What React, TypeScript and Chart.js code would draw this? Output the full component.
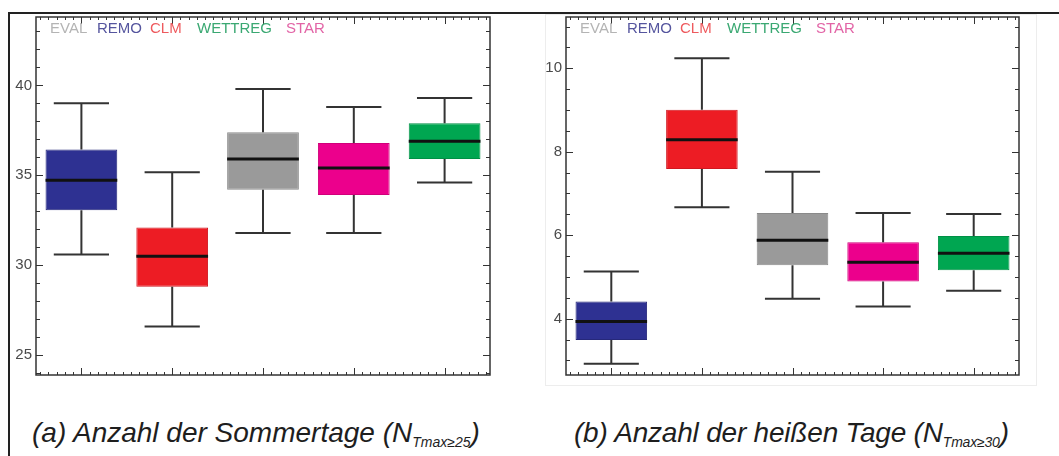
import React, { useEffect, useRef } from "react";
import { Chart, registerables } from "chart.js";
Chart.register(...registerables);

// Categories (box order left to right)
const categories = ["REMO", "CLM", "EVAL", "STAR", "WETTREG"];
const boxColors = ["#2e3192", "#ed1c24", "#9a9a9a", "#ec008c", "#00a651"];
const boxBorders = ["#26287a", "#d01820", "#8a8a8a", "#d0007a", "#009045"];

// Legend
const legendNames = ["EVAL", "REMO", "CLM", "WETTREG", "STAR"];
const legendColors = ["#b4b4b4", "#55559e", "#ee5a5e", "#3aa872", "#e264a6"];
const legendOffsets = [50, 97, 150, 197, 286];

// (a) Sommertage
const sommerLow = [30.6, 26.6, 31.8, 31.8, 34.6];
const sommerQ1 = [33.06, 28.8, 34.2, 33.9, 35.9];
const sommerMedian = [34.72, 30.5, 35.9, 35.4, 36.9];
const sommerQ3 = [36.44, 32.1, 37.4, 36.8, 37.9];
const sommerHigh = [39.0, 35.17, 39.8, 38.8, 39.3];
const sommerTicks = [25, 30, 35, 40];

// (b) heiße Tage
const heissLow = [2.92, 6.67, 4.48, 4.29, 4.67];
const heissQ1 = [3.49, 7.59, 5.28, 4.89, 5.16];
const heissMedian = [3.93, 8.29, 5.88, 5.35, 5.57];
const heissQ3 = [4.41, 9.01, 6.53, 5.83, 5.98];
const heissHigh = [5.13, 10.24, 7.52, 6.53, 6.51];
const heissTicks = [4, 6, 8, 10];

const boxExtras = {
  id: "boxExtras",
  afterDatasetsDraw(chart: any, _args: any, opts: any) {
    const { ctx, scales } = chart;
    const y = scales.y;
    const meta = chart.getDatasetMeta(0);
    ctx.save();
    meta.data.forEach((bar: any, i: number) => {
      const cx = bar.x;
      const w = bar.width;
      const capW = w * 0.77;
      const yLow = y.getPixelForValue(opts.low[i]);
      const yHigh = y.getPixelForValue(opts.high[i]);
      const yQ1 = y.getPixelForValue(opts.q1[i]);
      const yQ3 = y.getPixelForValue(opts.q3[i]);
      const yMed = y.getPixelForValue(opts.median[i]);
      ctx.strokeStyle = "#333333";
      ctx.lineWidth = 2;
      ctx.beginPath();
      ctx.moveTo(cx, yQ3);
      ctx.lineTo(cx, yHigh);
      ctx.moveTo(cx - capW / 2, yHigh);
      ctx.lineTo(cx + capW / 2, yHigh);
      ctx.moveTo(cx, yQ1);
      ctx.lineTo(cx, yLow);
      ctx.moveTo(cx - capW / 2, yLow);
      ctx.lineTo(cx + capW / 2, yLow);
      ctx.stroke();
      ctx.strokeStyle = "#111111";
      ctx.lineWidth = 3;
      ctx.beginPath();
      ctx.moveTo(cx - w / 2, yMed);
      ctx.lineTo(cx + w / 2, yMed);
      ctx.stroke();
    });
    ctx.restore();
  },
  afterDraw(chart: any, _args: any, opts: any) {
    const { ctx, chartArea: a, scales } = chart;
    const y = scales.y;
    const x = scales.x;
    ctx.save();
    ctx.strokeStyle = "#333333";
    ctx.lineWidth = 1;
    ctx.beginPath();
    // y ticks
    const minor = opts.minorStep;
    const major = opts.majorStep;
    const kStart = Math.ceil(y.min / minor);
    const kEnd = Math.floor(y.max / minor);
    for (let k = kStart; k <= kEnd; k++) {
      const v = k * minor;
      const isMajor = Math.abs(v / major - Math.round(v / major)) < 1e-6;
      const len = isMajor ? 7 : 4;
      const py = Math.round(y.getPixelForValue(v)) + 0.5;
      ctx.moveTo(a.left, py);
      ctx.lineTo(a.left + len, py);
      ctx.moveTo(a.right, py);
      ctx.lineTo(a.right - len, py);
    }
    // x ticks
    const n = chart.data.labels.length;
    const c0 = x.getPixelForValue(0);
    const c1 = x.getPixelForValue(1);
    const step = (c1 - c0) / 11;
    for (let i = 0; i < n; i++) {
      const cx = x.getPixelForValue(i);
      for (let j = -5; j <= 5; j++) {
        const px = Math.round(cx + j * step) + 0.5;
        if (px <= a.left + 1 || px >= a.right - 1) continue;
        const len = j === 0 ? 7 : 3;
        ctx.moveTo(px, a.bottom);
        ctx.lineTo(px, a.bottom - len);
        ctx.moveTo(px, a.top);
        ctx.lineTo(px, a.top + len);
      }
    }
    ctx.stroke();
    ctx.lineWidth = 1.5;
    ctx.strokeRect(a.left, a.top, a.width, a.height);
    ctx.restore();
  },
};

function makeConfig(
  q1: number[],
  q3: number[],
  low: number[],
  high: number[],
  median: number[],
  ticks: number[],
  yMin: number,
  yMax: number,
  minorStep: number,
  majorStep: number
): any {
  return {
    type: "bar",
    data: {
      labels: categories,
      datasets: [
        {
          data: q1.map((v, i) => [v, q3[i]]),
          backgroundColor: boxColors,
          borderColor: boxBorders,
          borderWidth: 1,
          borderSkipped: false,
          barPercentage: 0.79,
          categoryPercentage: 1,
        },
      ],
    },
    options: {
      responsive: false,
      animation: false,
      events: [],
      layout: { padding: { left: 0, top: 17, right: 40, bottom: 25 } },
      plugins: {
        legend: { display: false },
        tooltip: { enabled: false },
        boxExtras: { low, high, median, q1, q3, minorStep, majorStep },
      },
      scales: {
        x: { display: false, offset: true },
        y: {
          min: yMin,
          max: yMax,
          grid: { display: false, drawTicks: false, tickLength: 0 },
          border: { display: false },
          afterFit: (s: any) => {
            s.width = 36;
          },
          afterBuildTicks: (s: any) => {
            s.ticks = ticks.map((v) => ({ value: v }));
          },
          ticks: {
            padding: 4,
            color: "#4a4a4a",
            font: { family: "'Liberation Sans', Arial, sans-serif", size: 15 },
          },
        },
      },
    },
    plugins: [boxExtras],
  };
}

export default function App() {
  const leftRef = useRef<HTMLCanvasElement>(null);
  const rightRef = useRef<HTMLCanvasElement>(null);

  useEffect(() => {
    const c1 = new Chart(
      leftRef.current as HTMLCanvasElement,
      makeConfig(sommerQ1, sommerQ3, sommerLow, sommerHigh, sommerMedian, sommerTicks, 23.9, 43.8, 1, 5)
    );
    const c2 = new Chart(
      rightRef.current as HTMLCanvasElement,
      makeConfig(heissQ1, heissQ3, heissLow, heissHigh, heissMedian, heissTicks, 2.65, 11.23, 0.5, 2)
    );
    return () => {
      c1.destroy();
      c2.destroy();
    };
  }, []);

  const legend = (baseX: number) =>
    legendNames.map((name, i) => (
      <span
        key={name + baseX}
        style={{
          position: "absolute",
          left: baseX + legendOffsets[i],
          top: 19,
          font: "15px 'Liberation Sans', Arial, sans-serif",
          color: legendColors[i],
          lineHeight: "18px",
          whiteSpace: "nowrap",
        }}
      >
        {name}
      </span>
    ));

  const captionStyle: React.CSSProperties = {
    position: "absolute",
    top: 417,
    font: "italic 28px 'Liberation Sans', Arial, sans-serif",
    color: "#1e1e1e",
    whiteSpace: "nowrap",
    lineHeight: "32px",
  };
  const subStyle: React.CSSProperties = { fontSize: 14, verticalAlign: "-5px" };

  return (
    <div
      style={{
        position: "absolute",
        left: 0,
        top: 0,
        width: 1059,
        height: 456,
        overflow: "hidden",
        background: "#ffffff",
      }}
    >
      <div
        style={{
          position: "absolute",
          left: 8,
          top: 12,
          width: 1100,
          height: 500,
          border: "2px solid #222",
        }}
      />
      <div
        style={{
          position: "absolute",
          left: 545,
          top: 14,
          width: 490,
          height: 370,
          border: "1px solid #ededed",
        }}
      />
      <canvas
        ref={leftRef}
        width={530}
        height={400}
        style={{ position: "absolute", left: 0, top: 0, width: 530, height: 400 }}
      />
      <canvas
        ref={rightRef}
        width={529}
        height={400}
        style={{ position: "absolute", left: 530, top: 0, width: 529, height: 400 }}
      />
      {legend(0)}
      {legend(530)}
      <div style={{ ...captionStyle, left: 32 }}>
        (a) Anzahl der Sommertage (N<span style={subStyle}>Tmax≥25</span>)
      </div>
      <div style={{ ...captionStyle, left: 574, letterSpacing: "-0.2px" }}>
        (b) Anzahl der heißen Tage (N<span style={subStyle}>Tmax≥30</span>)
      </div>
    </div>
  );
}
